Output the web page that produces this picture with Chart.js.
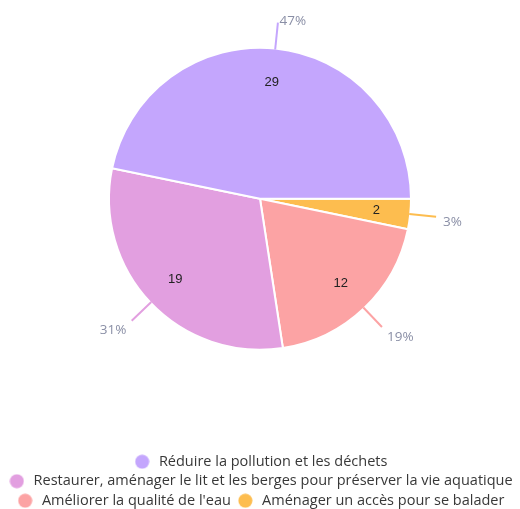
<!DOCTYPE html>
<html>
<head>
<meta charset="utf-8">
<script src="https://cdn.jsdelivr.net/npm/chart.js@4/dist/chart.umd.min.js"></script>
<style>
  html, body { margin: 0; padding: 0; background: #ffffff; }
  #wrap { width: 520px; height: 509px; position: relative; }
</style>
</head>
<body>
<div id="wrap"><canvas id="c" width="520" height="509"></canvas></div>
<script>
const categories = [
  "Réduire la pollution et les déchets",
  "Restaurer, aménager le lit et les berges pour préserver la vie aquatique",
  "Améliorer la qualité de l'eau",
  "Aménager un accès pour se balader"
];
const values = [29, 19, 12, 2];
const colors = ["#c4a6fd", "#e29fe0", "#fca3a4", "#fdbd4f"];

// drawn clockwise from 3 o'clock in reverse order (appears counter-clockwise)
const dataValues = values.slice().reverse();
const dataLabels = categories.slice().reverse();
const dataColors = colors.slice().reverse();

function dot(color) {
  const c = document.createElement('canvas');
  c.width = 15; c.height = 15;
  const g = c.getContext('2d');
  g.fillStyle = color;
  g.beginPath();
  g.arc(7.5, 7.5, 7, 0, Math.PI * 2);
  g.fill();
  return c;
}

const sliceLabels = {
  id: 'sliceLabels',
  afterDatasetsDraw(chart) {
    const ctx = chart.ctx;
    const meta = chart.getDatasetMeta(0);
    const ds = chart.data.datasets[0];
    const total = ds.data.reduce((a, b) => a + b, 0);
    meta.data.forEach((arc, i) => {
      const p = arc.getProps(['x', 'y', 'startAngle', 'endAngle', 'outerRadius'], true);
      const mid = (p.startAngle + p.endAngle) / 2;
      const dx = Math.cos(mid), dy = Math.sin(mid);
      ctx.save();
      ctx.font = '13px "Liberation Sans", Arial, sans-serif';
      ctx.fillStyle = '#222222';
      ctx.textAlign = 'center';
      ctx.textBaseline = 'middle';
      const ri = p.outerRadius * 0.775;
      ctx.fillText(String(ds.data[i]), p.x + dx * ri, p.y + dy * ri);
      const r1 = p.outerRadius - 1, r2 = p.outerRadius + 26;
      ctx.strokeStyle = ds.backgroundColor[i];
      ctx.lineWidth = 2;
      ctx.beginPath();
      ctx.moveTo(p.x + dx * r1, p.y + dy * r1);
      const ex = p.x + dx * r2, ey = p.y + dy * r2;
      ctx.lineTo(ex, ey);
      ctx.stroke();
      const pct = Math.round(ds.data[i] / total * 100) + '%';
      ctx.font = '13.5px "Open Sans", sans-serif';
      ctx.fillStyle = '#8a8fa6';
      const side = dx >= 0 ? 1 : -1;
      ctx.textAlign = side > 0 ? 'left' : 'right';
      ctx.textBaseline = 'middle';
      ctx.fillText(pct, ex + side * (1 + 6 * Math.abs(dx)), ey + dy * 7 + 5);
      ctx.restore();
    });
  }
};

new Chart(document.getElementById('c'), {
  type: 'pie',
  data: {
    labels: dataLabels,
    datasets: [{
      data: dataValues,
      backgroundColor: dataColors,
      borderColor: '#ffffff',
      borderWidth: 2,
      radius: 151
    }]
  },
  options: {
    responsive: false,
    animation: false,
    rotation: 90,
    layout: { padding: { top: 0, left: 0, right: 0, bottom: -9 } },
    plugins: {
      tooltip: { enabled: false },
      legend: {
        position: 'bottom',
        reverse: true,
        title: { display: true, text: ' ', font: { size: 10 }, padding: { top: 0, bottom: 40 } },
        labels: {
          usePointStyle: true,
          pointStyleWidth: 19,
          boxHeight: 10,
          padding: 5,
          color: '#383838',
          font: { size: 14.5, family: '"Open Sans", sans-serif' },
          generateLabels(chart) {
            const items = Chart.controllers.pie.overrides.plugins.legend.labels.generateLabels(chart);
            items.forEach(it => { it.pointStyle = dot(it.fillStyle); });
            return items;
          }
        }
      }
    }
  },
  plugins: [sliceLabels]
});
</script>
</body>
</html>
